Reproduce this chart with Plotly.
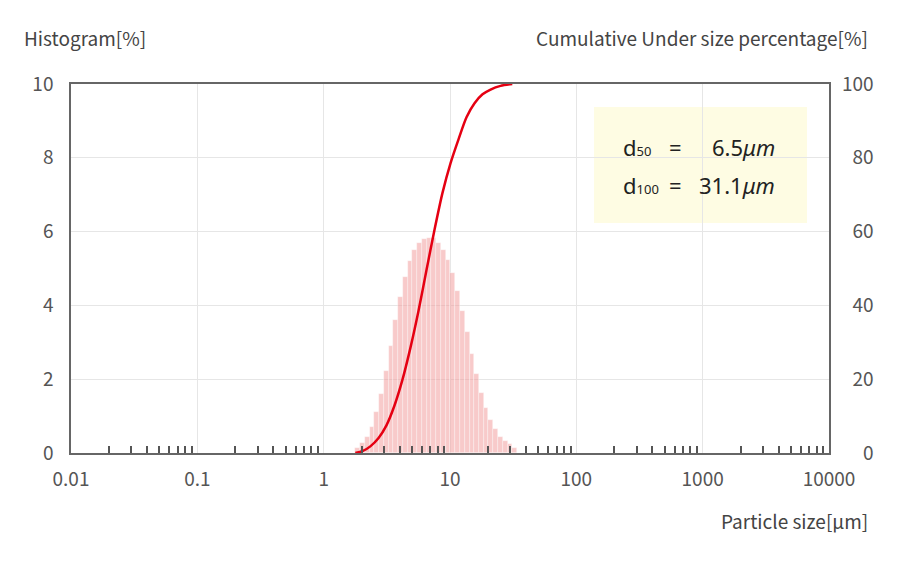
import numpy as np
import plotly.graph_objects as go

# --- data ---

# size channel edges [um] for the histogram bars
bin_edges = [1.783, 1.945, 2.121, 2.312, 2.522, 2.750, 2.999, 3.270, 3.566, 3.889,
             4.241, 4.625, 5.044, 5.500, 5.998, 6.541, 7.133, 7.778, 8.482, 9.250,
             10.09, 11.00, 12.00, 13.08, 14.27, 15.56, 16.96, 18.50, 20.17, 22.00,
             23.99, 26.16, 28.53, 31.11, 33.92]
# histogram [%] per channel
hist_pct = [0.13, 0.28, 0.44, 0.70, 1.10, 1.60, 2.22, 2.89, 3.60, 4.23,
            4.78, 5.21, 5.50, 5.68, 5.79, 5.82, 5.82, 5.68, 5.50, 5.23,
            4.89, 4.40, 3.86, 3.28, 2.67, 2.13, 1.63, 1.21, 0.89, 0.64,
            0.44, 0.33, 0.24, 0.13]

# cumulative under size curve
cum_size = [1.78, 2.03, 2.34, 2.71, 3.14, 3.63, 4.20, 4.86, 5.63, 6.51,
            7.54, 8.72, 10.09, 11.68, 13.51, 15.64, 18.09, 20.94, 25.13, 31.11]
cum_pct = [0, 0.5, 1.8, 4.0, 7.5, 12.8, 19.8, 28.5, 38.5, 49.5,
           60.5, 70.5, 78.5, 85.0, 91.0, 94.8, 97.2, 98.5, 99.5, 100]

x_ticks = [0.01, 0.1, 1, 10, 100, 1000, 10000]
x_ticktext = ['0.01', '0.1', '1', '10', '100', '1000', '10000']
left_ticks = [0, 2, 4, 6, 8, 10]
right_ticks = [0, 20, 40, 60, 80, 100]

d50 = '6.5'
d100 = '31.1'

# --- figure ---
# the page body has an 8px margin, so the figure is 8px smaller and the
# plot area is placed so it lands where the reference has it
W, H = 892, 555
PL, PT, PW, PH = 63, 76, 758, 369   # plot area in figure px


def px_x(x):   # screen px -> paper x
    return (x - 8 - PL) / PW


def px_y(y):   # screen px -> paper y
    return (PT + PH - (y - 8)) / PH


TICK_FONT = dict(family='Noto Sans CJK JP', size=19, color='#555555')
LABEL_FONT = dict(family='Noto Sans CJK JP', size=19, color='#444444')
AXIS_LINE = '#666666'
GRID = '#e6e6e6'

# x is plotted in log10 units on a linear axis
log_edges = np.log10(bin_edges)
bar_x = (log_edges[:-1] + log_edges[1:]) / 2
bar_w = log_edges[1:] - log_edges[:-1]
minor_vals = [np.log10(m * 10.0 ** d) for d in range(-2, 4) for m in range(2, 10)]

fig = go.Figure()

fig.add_trace(go.Bar(
    x=bar_x, y=hist_pct, width=bar_w,
    marker=dict(color='rgba(242,150,150,0.5)',
                line=dict(color='rgba(255,255,255,0.6)', width=0.6)),
    showlegend=False, hoverinfo='skip',
))

fig.add_trace(go.Scatter(
    x=np.log10(cum_size), y=cum_pct, yaxis='y2',
    mode='lines', line=dict(color='#e50012', width=2.5, shape='spline', smoothing=0.8),
    showlegend=False,
))

fig.update_layout(
    width=W, height=H,
    margin=dict(l=PL, r=W - PL - PW, t=PT, b=H - PT - PH),
    plot_bgcolor='white', paper_bgcolor='white',
    bargap=0,
    xaxis=dict(
        range=[-2, 4],
        tickvals=np.log10(x_ticks), ticktext=x_ticktext,
        ticks='', tickfont=TICK_FONT, ticklabelstandoff=8,
        showgrid=True, gridcolor=GRID, gridwidth=1,
        showline=True, linecolor=AXIS_LINE, linewidth=1.5, mirror=True,
        minor=dict(tickmode='array', tickvals=minor_vals, ticks='inside',
                   ticklen=7, tickwidth=1.5, tickcolor='#555555', showgrid=False),
        zeroline=False, automargin=False,
    ),
    yaxis=dict(
        range=[0, 10], tickvals=left_ticks, ticks='', tickfont=TICK_FONT,
        ticklabelstandoff=12,
        showgrid=True, gridcolor=GRID, gridwidth=1,
        showline=True, linecolor=AXIS_LINE, linewidth=1.5, mirror=True,
        zeroline=False, automargin=False,
    ),
    yaxis2=dict(
        overlaying='y', side='right', range=[0, 100],
        tickvals=right_ticks,
        ticktext=[str(v).rjust(3, '\u2007') for v in right_ticks],
        ticks='', tickfont=TICK_FONT, ticklabelstandoff=12,
        showgrid=False, showline=False, zeroline=False, automargin=False,
    ),
)

# axis captions
fig.add_annotation(text='Histogram[%]', xref='paper', yref='paper',
                   x=px_x(22), y=px_y(37),
                   xanchor='left', yanchor='middle', showarrow=False, font=LABEL_FONT)
fig.add_annotation(text='Cumulative Under size percentage[%]', xref='paper', yref='paper',
                   x=px_x(870), y=px_y(37),
                   xanchor='right', yanchor='middle', showarrow=False, font=LABEL_FONT)
fig.add_annotation(text='Particle size[μm]', xref='paper', yref='paper',
                   x=px_x(870), y=px_y(520),
                   xanchor='right', yanchor='middle', showarrow=False, font=LABEL_FONT)

# d50 / d100 box
fig.add_shape(type='rect', xref='paper', yref='paper',
              x0=px_x(594), x1=px_x(807), y0=px_y(223), y1=px_y(107),
              fillcolor='#fefce3', line=dict(width=0), layer='below')

BOX_FONT = dict(family='Noto Sans', size=22, color='#222222')
for label, value, py in [('50', d50, 147), ('100', d100, 185)]:
    fig.add_annotation(text=f'd<span style="font-size:13px">{label}</span>',
                       xref='paper', yref='paper', x=px_x(621), y=px_y(py),
                       xanchor='left', yanchor='middle', showarrow=False, font=BOX_FONT)
    fig.add_annotation(text='=', xref='paper', yref='paper', x=px_x(675), y=px_y(py),
                       xanchor='center', yanchor='middle', showarrow=False, font=BOX_FONT)
    fig.add_annotation(text=f'{value}<i>μm</i>', xref='paper', yref='paper',
                       x=px_x(777), y=px_y(py),
                       xanchor='right', yanchor='middle', showarrow=False, font=BOX_FONT)

fig.write_html("out.html")
